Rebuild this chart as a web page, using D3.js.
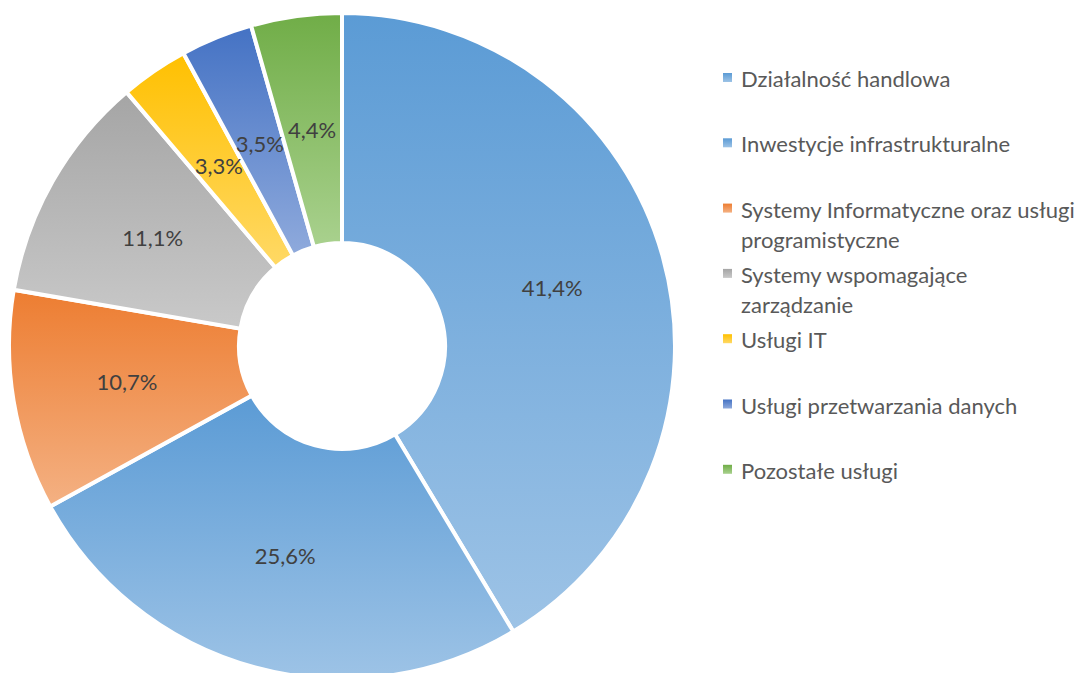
<!DOCTYPE html>
<html>
<head>
<meta charset="utf-8">
<script src="https://cdn.jsdelivr.net/npm/d3@7"></script>
<style>
  body { margin: 0; background: #fff; }
  text { font-family: Lato, "Open Sans", sans-serif; }
</style>
</head>
<body>
<svg id="chart"></svg>
<script>
// donut chart - struktura przychodow

var categories = ["Działalność handlowa", "Inwestycje infrastrukturalne",
  "Systemy Informatyczne oraz usługi programistyczne", "Systemy wspomagające zarządzanie",
  "Usługi IT", "Usługi przetwarzania danych", "Pozostałe usługi"];
var values = [41.4, 25.6, 10.7, 11.1, 3.3, 3.5, 4.4];
var baseColors = ["#5B9BD5", "#5B9BD5", "#ED7D31", "#A5A5A5", "#FFC000", "#4472C4", "#70AD47"];
var lightColors = ["#9DC3E6", "#9DC3E6", "#F4B183", "#C9C9C9", "#FFD966", "#8FAADC", "#A9D18E"];

var width = 1079, height = 673;
var cx = 342, cy = 346, outerR = 333, innerR = 103;

var pl = d3.formatLocale({decimal: ",", thousands: " ", grouping: [3], currency: ["", " zł"]});
var fmt = pl.format(".1f");

var svg = d3.select("#chart")
  .attr("width", width)
  .attr("height", height);

// gradients, dark at top -> light at bottom (per slice bbox)
var defs = svg.append("defs");
var grads = defs.selectAll("linearGradient")
  .data(categories)
  .enter().append("linearGradient")
  .attr("id", function(d, i) { return "grad" + i; })
  .attr("x1", 0).attr("y1", 0).attr("x2", 0).attr("y2", 1);
grads.append("stop").attr("offset", "0%").attr("stop-color", function(d, i) { return baseColors[i]; });
grads.append("stop").attr("offset", "100%").attr("stop-color", function(d, i) { return lightColors[i]; });

var pie = d3.pie().sort(null).value(function(d) { return d; });
var arcs = pie(values);

var arc = d3.arc().innerRadius(innerR).outerRadius(outerR);
var labelArc = d3.arc().innerRadius(218).outerRadius(218);

var g = svg.append("g")
  .attr("transform", "translate(" + cx + "," + cy + ")");

g.selectAll("path")
  .data(arcs)
  .enter().append("path")
  .attr("d", arc)
  .attr("fill", function(d, i) { return "url(#grad" + i + ")"; })
  .attr("stroke", "#fff")
  .attr("stroke-width", 4)
  .attr("stroke-linejoin", "miter");

g.selectAll(".label")
  .data(arcs)
  .enter().append("text")
  .attr("class", "label")
  .attr("transform", function(d) { return "translate(" + labelArc.centroid(d) + ")"; })
  .attr("text-anchor", "middle")
  .attr("dy", "0.35em")
  .style("font-size", "22px")
  .style("fill", "#404040")
  .text(function(d) { return fmt(d.value) + "%"; });

// legend
var legend = svg.selectAll(".legend")
  .data(categories)
  .enter().append("g")
  .attr("class", "legend")
  .attr("transform", function(d, i) { return "translate(723," + (87 + i * 65.3) + ")"; });

legend.append("rect")
  .attr("x", 0)
  .attr("y", -14)
  .attr("width", 9)
  .attr("height", 9)
  .attr("fill", function(d, i) { return "url(#grad" + i + ")"; });

legend.append("text")
  .attr("x", 18)
  .attr("y", 0)
  .style("font-size", "22px")
  .style("fill", "#595959")
  .each(function(d) { wrap(d3.select(this), d, 338); });

function wrap(sel, str, maxW) {
  var words = str.split(" "), line = [];
  var tspan = sel.append("tspan").attr("x", 18).attr("dy", 0);
  words.forEach(function(w) {
    line.push(w);
    tspan.text(line.join(" "));
    if (tspan.node().getComputedTextLength() > maxW && line.length > 1) {
      line.pop();
      tspan.text(line.join(" "));
      line = [w];
      tspan = sel.append("tspan").attr("x", 18).attr("dy", 30).text(w);
    }
  });
}
</script>
</body>
</html>
